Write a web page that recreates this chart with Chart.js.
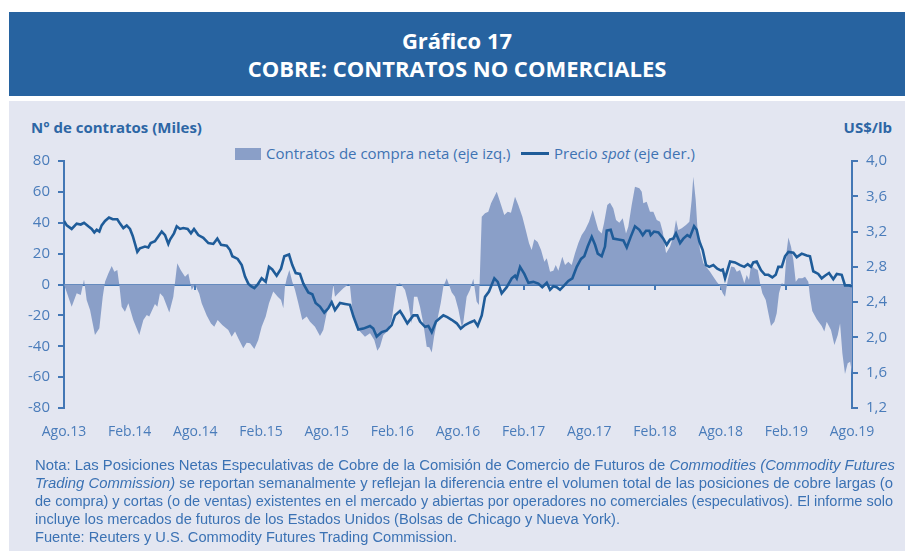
<!DOCTYPE html>
<html>
<head>
<meta charset="utf-8">
<script src="https://cdn.jsdelivr.net/npm/chart.js@4.4.1/dist/chart.umd.min.js"></script>
<style>
  html, body { margin:0; padding:0; }
  body { width:905px; height:551px; position:relative; overflow:hidden; background:#ffffff; font-family:'Open Sans', sans-serif; }
  #banner { position:absolute; left:9px; top:12px; width:896px; height:84px; background:#2763A0; color:#ffffff; text-align:center; font-weight:700; font-size:22px; line-height:28px; box-sizing:border-box; padding-top:14px; }
  #panel { position:absolute; left:9px; top:101px; width:896px; height:450px; background:#E3E6F1; }
  .axt { position:absolute; top:117px; color:#2D66A5; font-weight:700; font-size:15px; white-space:nowrap; }
  .leg { position:absolute; top:143px; color:#3F73B3; font-size:15px; white-space:nowrap; line-height:20px; }
  #note { position:absolute; left:35px; top:456px; color:#3B72B4; font-family:'Liberation Sans', sans-serif; font-size:15.5px; line-height:18px; white-space:nowrap; }
  #note div { height:18px; transform-origin:0 0; }
  #note span { display:inline-block; }
  canvas { position:absolute; left:0; top:0; }
</style>
</head>
<body>
<div id="banner">Gráfico 17<br>COBRE: CONTRATOS NO COMERCIALES</div>
<div id="panel"></div>
<div class="axt" style="left:31px;">N° de contratos (Miles)</div>
<div class="axt" style="right:13px;">US$/lb</div>
<div class="leg" style="left:235px;"><span style="display:inline-block;width:26px;height:12px;background:#8A9FC8;vertical-align:-1px;margin-right:5px;"></span>Contratos de compra neta (eje izq.)</div>
<div class="leg" style="left:521px;"><span style="display:inline-block;width:28px;height:3px;background:#1F5C99;vertical-align:4px;margin-right:5px;"></span>Precio <i>spot</i> (eje der.)</div>
<canvas id="c" width="905" height="551"></canvas>
<div id="note">
<div data-w="860"><span>Nota: Las Posiciones Netas Especulativas de Cobre de la Comisión de Comercio de Futuros de <i>Commodities (Commodity Futures</i></span></div>
<div data-w="858"><span><i>Trading Commission)</i> se reportan semanalmente y reflejan la diferencia entre el volumen total de las posiciones de cobre largas (o</span></div>
<div data-w="858"><span>de compra) y cortas (o de ventas) existentes en el mercado y abiertas por operadores no comerciales (especulativos). El informe solo</span></div>
<div data-w="585"><span>incluye los mercados de futuros de los Estados Unidos (Bolsas de Chicago y Nueva York).</span></div>
<div data-w="422"><span>Fuente: Reuters y U.S. Commodity Futures Trading Commission.</span></div>
</div>
<script>
// x values are months elapsed since August 2013
const xTickLabels = ['Ago.13','Feb.14','Ago.14','Feb.15','Ago.15','Feb.16','Ago.16','Feb.17','Ago.17','Feb.18','Ago.18','Feb.19','Ago.19'];

const contractMonths = [0.00,0.18,0.70,1.16,1.53,1.83,2.07,2.38,2.83,3.23,3.54,3.75,4.05,4.36,4.60,4.87,5.05,5.27,5.57,5.88,6.33,6.88,7.25,7.56,7.79,8.31,8.53,8.77,9.07,9.62,9.99,10.35,10.66,11.06,11.36,11.67,11.97,12.36,12.58,13.04,13.43,13.73,14.04,14.46,15.01,15.32,15.63,15.93,16.38,16.69,17.00,17.39,17.75,18.06,18.43,18.73,19.12,19.53,19.83,20.04,20.19,20.35,20.59,20.86,21.11,21.41,21.77,22.18,22.48,22.93,23.39,23.69,24.00,24.40,24.61,24.76,25.06,25.52,25.98,26.13,26.38,26.68,27.05,27.50,27.96,28.35,28.63,28.87,29.18,29.54,29.94,30.24,30.40,30.70,30.95,31.16,31.46,31.77,31.98,32.28,32.53,32.83,33.14,33.38,33.60,33.81,34.11,34.42,34.66,34.97,35.42,35.72,36.03,36.34,36.48,36.79,37.09,37.40,37.70,37.91,38.17,38.47,38.77,39.02,39.54,39.84,40.23,40.54,40.84,41.21,41.51,41.88,42.19,42.49,42.73,42.97,43.28,43.59,43.89,44.11,44.41,44.71,44.93,45.17,45.53,45.78,46.08,46.39,46.69,46.99,47.30,47.61,47.97,48.31,48.58,48.82,49.13,49.34,49.64,49.89,50.19,50.44,50.74,51.05,51.35,51.56,51.87,52.17,52.57,52.79,52.93,53.24,53.54,53.85,54.16,54.46,54.71,55.01,55.37,55.67,55.92,56.13,56.44,56.83,57.14,57.35,57.50,57.72,57.87,58.11,58.42,58.78,59.03,59.33,59.64,59.88,60.19,60.40,60.65,60.95,61.25,61.47,61.77,61.98,62.16,62.38,62.59,62.77,63.07,63.39,63.60,63.81,64.12,64.36,64.60,64.91,65.12,65.33,65.58,65.82,66.04,66.19,66.43,66.64,66.86,67.10,67.46,67.71,68.01,68.16,68.37,68.78,69.23,69.47,69.69,70.08,70.39,70.70,70.91,71.12,71.36,71.61,71.83,72.00];
const contractValues = [0,-3.6,-14.4,-5.7,-6.8,3.3,-10,-16.5,-32.7,-28.4,-7.9,1.8,7.2,12,8.3,9.4,0,-14.4,-17.6,-12.2,-23,-32.7,-23,-19.8,-20.8,-12.6,-14.4,-5.7,-7.9,-18.2,-7.9,13.7,9.4,5.1,7.2,-3.6,0,-6,-12.2,-20,-25.2,-27.3,-23,-26.2,-29.5,-33.8,-30.5,-34.9,-41.3,-37.7,-38.1,-41.8,-35.9,-27.3,-20.8,-12.2,-4.6,-7.9,-10,-15.4,-1.4,4,9.4,1.8,-3.6,-12.2,-23,-20.8,-24.1,-27.3,-33.4,-29.5,-18.7,-12.2,0,-7.9,-5.7,-2.5,0,-1,-18.7,-27.3,-30.5,-33.8,-31.6,-35.9,-42.9,-40.3,-32.7,-30.5,-23,-7.9,0,0.8,-1.4,-3.6,-12.2,-25.2,-7.9,-7.9,-14.4,-25.2,-40.3,-40.7,-44.1,-33.8,-23,-12.2,-1.4,4,-5,-8,-16,-27.3,-25,-8,-3.6,3.7,-11,-13.3,43.9,46.1,47.2,52.6,60.1,53.6,45,47.2,46.5,56.9,51.5,43.9,35.3,26.7,22.4,29.3,27.6,22.4,14.8,17,8.3,8.9,12.6,8.9,18,12.6,14.8,12.6,20.2,26.7,32,35.3,40.7,48.3,41.3,35.3,33.1,39.6,51.5,53,49.3,41.8,40,42.9,33.1,37.4,51.5,63.4,62.3,60.1,52.6,53.6,47.2,47.2,41.8,40.7,34.2,20.2,24.5,31,41.8,35.3,36.4,38.5,40.7,54.7,69.8,54.7,37.4,22.3,13.7,10.5,8.3,5.1,1.8,-0.3,-5.7,-7.9,2.9,11.6,11.2,8.3,9.4,5.1,0.8,6.2,2.9,12.6,10.5,9.4,0.8,-5.7,-10,-18.7,-26.9,-24.1,-18.7,-5.7,0.8,0,22.3,30.5,24.5,15.9,1.8,4,4,5.1,1.8,-7.9,-17.2,-22.5,-26.9,-30.5,-24.1,-29.5,-39.2,-32.7,-25.2,-44.6,-58,-51,-50,-57.5];

const priceMonths = [0.00,0.25,0.70,1.16,1.53,1.83,2.22,2.53,2.77,2.99,3.23,3.44,3.75,4.11,4.45,4.87,5.12,5.42,5.73,6.03,6.28,6.49,6.70,6.94,7.40,7.70,7.92,8.31,8.47,8.93,9.23,9.53,9.69,10.05,10.30,10.60,10.90,11.30,11.60,11.88,12.27,12.73,13.19,13.64,14.01,14.35,14.87,15.17,15.38,15.87,16.24,16.54,16.84,17.09,17.39,17.70,18.06,18.43,18.73,19.03,19.43,19.83,20.13,20.56,20.86,21.17,21.56,21.87,22.32,22.69,22.99,23.39,23.78,24.15,24.46,24.76,25.22,25.68,26.13,26.44,26.89,27.35,27.96,28.26,28.57,29.03,29.49,29.94,30.24,30.70,31.00,31.37,31.92,32.28,32.53,32.99,33.29,33.60,33.99,34.36,34.66,35.02,35.42,35.88,36.25,36.64,37.10,37.49,37.80,38.17,38.47,38.83,39.32,39.63,39.99,40.45,40.91,41.21,41.37,41.67,42.06,42.43,42.88,43.34,43.70,44.11,44.41,44.71,45.02,45.32,45.71,46.08,46.45,46.85,47.24,47.54,47.85,48.22,48.52,48.77,49.13,49.43,49.59,49.95,50.19,50.65,51.11,51.42,51.78,52.17,52.57,52.88,53.18,53.48,53.61,53.91,54.31,54.76,55.07,55.37,55.67,55.92,56.29,56.59,56.95,57.20,57.57,57.81,58.05,58.36,58.66,58.96,59.33,59.69,60.00,60.19,60.40,60.86,61.31,61.77,62.16,62.47,62.77,62.98,63.29,63.69,64.05,64.36,64.72,65.03,65.27,65.58,65.88,66.19,66.64,66.95,67.41,67.86,68.16,68.46,68.92,69.23,69.53,69.90,70.29,70.61,71.06,71.36,71.73,72.00];
const priceValues = [3.32,3.27,3.23,3.29,3.28,3.30,3.26,3.23,3.19,3.22,3.20,3.27,3.32,3.36,3.34,3.34,3.29,3.24,3.27,3.23,3.15,3.06,2.97,3.01,3.03,3.02,3.07,3.09,3.12,3.20,3.16,3.06,3.11,3.18,3.26,3.23,3.24,3.23,3.18,3.23,3.16,3.13,3.07,3.06,3.12,3.05,3.04,2.99,2.92,2.89,2.82,2.69,2.61,2.58,2.56,2.60,2.67,2.63,2.80,2.77,2.70,2.78,2.92,2.94,2.82,2.73,2.72,2.61,2.51,2.49,2.39,2.35,2.28,2.33,2.40,2.31,2.39,2.38,2.37,2.24,2.09,2.10,2.13,2.10,2.01,2.06,2.08,2.14,2.25,2.30,2.24,2.16,2.25,2.25,2.18,2.12,2.13,2.06,2.18,2.22,2.25,2.23,2.20,2.16,2.10,2.14,2.17,2.19,2.13,2.25,2.46,2.52,2.67,2.63,2.50,2.57,2.67,2.70,2.67,2.80,2.72,2.62,2.63,2.61,2.57,2.62,2.54,2.58,2.57,2.54,2.59,2.64,2.67,2.80,2.89,2.92,3.03,3.14,3.05,2.95,2.92,3.03,3.21,3.22,3.12,3.11,3.10,3.02,3.14,3.26,3.22,3.16,3.21,3.21,3.16,3.20,3.19,3.12,3.05,3.11,3.12,3.18,3.07,3.12,3.16,3.14,3.26,3.22,3.09,2.99,2.82,2.80,2.82,2.78,2.76,2.77,2.67,2.86,2.85,2.82,2.80,2.83,2.80,2.85,2.86,2.76,2.71,2.71,2.68,2.71,2.80,2.80,2.92,2.97,2.96,2.91,2.95,2.93,2.92,2.75,2.72,2.67,2.70,2.73,2.66,2.72,2.71,2.59,2.59,2.58];

const AXIS_BLUE = '#4377B5';
const TICK_BLUE = '#4A7CBA';

function zip(xs, ys) { return xs.map((x, i) => ({ x: x, y: ys[i] })); }

function fixV(w) {
  return function (s) { s.width = w; s.paddingTop = 0; s.paddingBottom = 0; };
}

// fit each note line to the width it has in the reference
document.querySelectorAll('#note div').forEach(function (d) {
  const w = d.firstElementChild.getBoundingClientRect().width;
  const target = parseFloat(d.getAttribute('data-w'));
  if (w > 0) d.style.transform = 'scaleX(' + (target / w) + ')';
});

new Chart(document.getElementById('c'), {
  type: 'line',
  data: {
    datasets: [
      {
        label: 'Precio spot (eje der.)',
        data: zip(priceMonths, priceValues),
        yAxisID: 'y2', xAxisID: 'x',
        borderColor: '#1F5C99', borderWidth: 2.6,
        pointRadius: 0, fill: false, tension: 0, order: 0
      },
      {
        label: 'Contratos de compra neta (eje izq.)',
        data: zip(contractMonths, contractValues),
        yAxisID: 'y', xAxisID: 'x',
        borderWidth: 0, borderColor: 'rgba(0,0,0,0)',
        backgroundColor: '#8A9FC8',
        pointRadius: 0, fill: 'origin', tension: 0, order: 1
      }
    ]
  },
  options: {
    responsive: false,
    animation: false,
    devicePixelRatio: 1,
    layout: { padding: { top: 161, left: 0, right: 0, bottom: 0 } },
    plugins: { legend: { display: false }, tooltip: { enabled: false } },
    scales: {
      x: {
        type: 'linear', position: 'bottom', min: 0, max: 72,
        grid: { display: false, drawTicks: false },
        border: { display: false },
        ticks: {
          stepSize: 6, autoSkip: false, maxRotation: 0, padding: 16,
          color: TICK_BLUE, font: { family: "'Open Sans'", size: 14 },
          callback: function (v) { return xTickLabels[Math.round(v / 6)]; }
        },
        afterFit: function (s) { s.height = 143; s.paddingLeft = 0; s.paddingRight = 0; }
      },
      xz: {
        type: 'linear', position: { y: 0 }, min: 0, max: 72, z: 1,
        grid: { drawOnChartArea: false, drawTicks: true, tickLength: 4, color: AXIS_BLUE, lineWidth: 2 },
        border: { display: true, color: AXIS_BLUE, width: 2 },
        ticks: { stepSize: 6, autoSkip: false, maxRotation: 0, callback: function () { return ''; } },
        afterFit: function (s) { s.paddingLeft = 0; s.paddingRight = 0; }
      },
      y: {
        position: 'left', min: -80, max: 80,
        grid: { drawOnChartArea: false, drawTicks: true, tickLength: 6, color: AXIS_BLUE, lineWidth: 2 },
        border: { display: true, color: AXIS_BLUE, width: 2 },
        ticks: {
          stepSize: 20, padding: 8, color: TICK_BLUE, font: { family: "'Open Sans'", size: 15 },
          callback: function (v) { return String(v); }
        },
        afterFit: fixV(64)
      },
      y2: {
        position: 'right', min: 1.2, max: 4.0,
        grid: { drawOnChartArea: false, drawTicks: true, tickLength: 6, color: AXIS_BLUE, lineWidth: 2 },
        border: { display: true, color: AXIS_BLUE, width: 2 },
        ticks: {
          stepSize: 0.4, padding: 8, color: TICK_BLUE, font: { family: "'Open Sans'", size: 15 },
          callback: function (v) { return v.toFixed(1).replace('.', ','); }
        },
        afterFit: fixV(53)
      }
    }
  }
});
</script>
</body>
</html>
